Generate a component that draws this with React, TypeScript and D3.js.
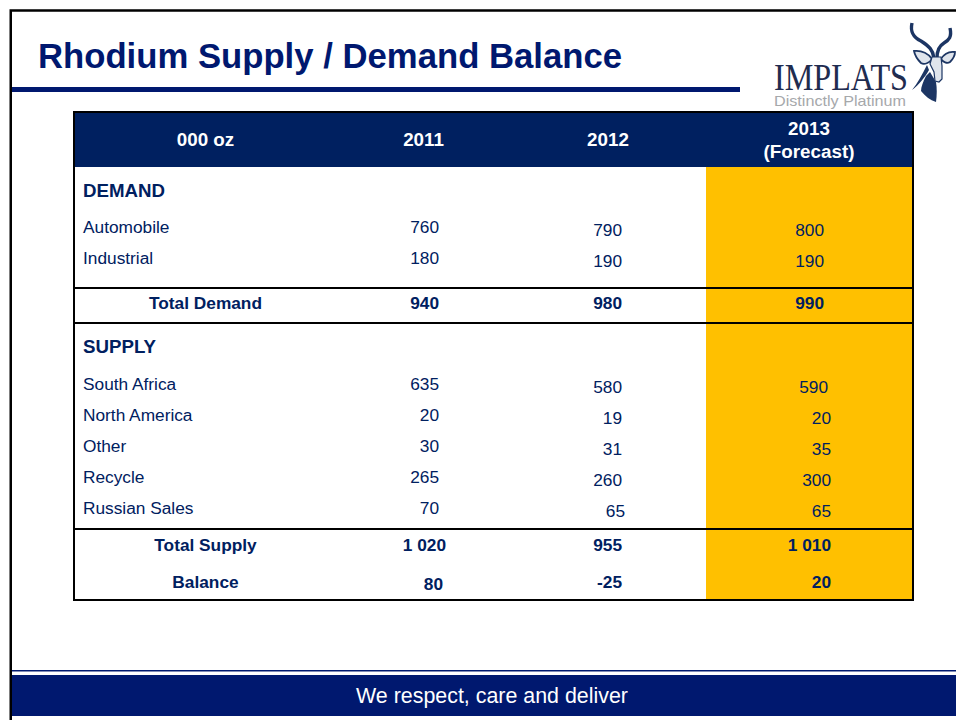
import React from 'react';
import * as d3 from 'd3';

const title = 'Rhodium Supply / Demand Balance';
const footer = 'We respect, care and deliver';
const headers = ['000 oz', '2011', '2012'];

const demandRows = ['Automobile', 'Industrial'];
const supplyRows = ['South Africa', 'North America', 'Other', 'Recycle', 'Russian Sales'];
const rowKeys = ['DEMAND', ...demandRows, 'Total Demand', 'SUPPLY', ...supplyRows, 'Total Supply', 'Balance'];
const valueRows = [...demandRows, 'Total Demand', ...supplyRows, 'Total Supply', 'Balance'];

const values2011 = ['760', '180', '940', '635', '20', '30', '265', '70', '1 020', '80'];
const values2012 = ['790', '190', '980', '580', '19', '31', '260', '65', '955', '-25'];
const values2013 = ['800', '190', '990', '590', '20', '35', '300', '65', '1 010', '20'];

const NAVY = '#002060';
const BLUE = '#00186f';
const ORANGE = '#ffc000';
const KUDU = '#1c3563';
const FONT = '"Liberation Sans", Arial, sans-serif';

// centre line of every row in the table
const rowY = d3.scaleOrdinal<string, number>()
  .domain(rowKeys)
  .range([190, 227, 258, 303, 346, 384, 415, 446, 477, 508, 545, 582]);

// the pasted columns do not line up, each cell has its own right edge
const right2011 = d3.scaleOrdinal<string, number>().domain(valueRows)
  .range([439, 439, 439, 439, 439, 439, 439, 439, 446, 443]);
const right2012 = d3.scaleOrdinal<string, number>().domain(valueRows)
  .range([622, 622, 622, 622, 622, 622, 622, 625, 622, 622]);
const right2013 = d3.scaleOrdinal<string, number>().domain(valueRows)
  .range([824, 824, 824, 828, 831, 831, 831, 831, 831, 831]);

const isTotal = (r: string) => r === 'Total Demand' || r === 'Total Supply' || r === 'Balance';

function Logo() {
  return (
    <g>
      <text x={774} y={90} fontFamily='"Liberation Serif", serif' fontSize={37} fill="#1f2c50" textLength={134} lengthAdjust="spacingAndGlyphs">IMPLATS</text>
      <text x={774} y={106} fontFamily={FONT} fontSize={14.5} fill="#a6a8ab" textLength={132} lengthAdjust="spacingAndGlyphs">Distinctly Platinum</text>
      {/* horns */}
      <path d="M912,23 C910,32 913,37 921,41 C929,46 933,50 934,58" fill="none" stroke={KUDU} strokeWidth={3.4} />
      <path d="M950,28 C952,37 949,40 944,43 C939,46 937,51 937,58" fill="none" stroke={KUDU} strokeWidth={3.4} />
      {/* ears */}
      <path d="M914,51 C922,50 929,54 932,59 C930,63 924,65 921,63 C918,60 915,56 914,51 Z" fill="#dfe4ec" stroke={KUDU} strokeWidth={1.8} />
      <path d="M955,52 C948,51 944,54 941,59 C943,62 947,64 950,62 C953,59 955,56 955,52 Z" fill="#dfe4ec" stroke={KUDU} strokeWidth={1.8} />
      {/* neck and the thin stripe beside it */}
      <path d="M927,65 C922,75 917,84 912,90 C919,85 925,77 929,70 Z" fill={KUDU} />
      <path d="M926,76 C923,82 921,87 921,91 C925,96 930,100 936,102 C937,95 937,88 936,82 L930,72 Z" fill={KUDU} />
      {/* face */}
      <path d="M932,57 L941,57 L942,66 L942,79 L939,82 L935,81 L934,72 L930,64 Z" fill="#dfe4ec" stroke={KUDU} strokeWidth={1.2} />
    </g>
  );
}

export default function App() {
  return (
    <svg width={956} height={720} viewBox="0 0 956 720" style={{ position: 'absolute', left: 0, top: 0, background: '#fff' }} fontFamily={FONT}>
      {/* slide frame */}
      <rect x={10.75} y={10.5} width={960} height={730} fill="none" stroke="#000" strokeWidth={2.5} />
      <text x={38} y={68} fontSize={34.7} fontWeight="bold" fill={BLUE}>{title}</text>
      <rect x={12} y={87} width={728} height={5} fill={BLUE} />
      <Logo />

      {/* table */}
      <rect x={74} y={112} width={840} height={55} fill={NAVY} />
      <rect x={706} y={167} width={208} height={433} fill={ORANGE} />
      <g fill="#fff" fontSize={18.8} fontWeight="bold" textAnchor="middle" dominantBaseline="central">
        <text x={205.5} y={139}>{headers[0]}</text>
        <text x={423.5} y={139}>{headers[1]}</text>
        <text x={608} y={139}>{headers[2]}</text>
        <text x={809} y={128}>2013</text>
        <text x={809} y={151}>(Forecast)</text>
      </g>
      <g fill={NAVY} fontSize={17.3} dominantBaseline="central">
        {rowKeys.map(r => {
          if (r === 'DEMAND' || r === 'SUPPLY') {
            return <text key={r} x={83} y={rowY(r)} fontSize={18.7} fontWeight="bold">{r}</text>;
          }
          if (isTotal(r)) {
            return <text key={r} x={205.5} y={rowY(r)} textAnchor="middle" fontWeight="bold">{r}</text>;
          }
          return <text key={r} x={83} y={rowY(r)}>{r}</text>;
        })}
        {valueRows.map((r, i) => (
          <text key={r} x={right2011(r)} y={rowY(r) + (r === 'Balance' ? 2 : 0)} textAnchor="end" fontWeight={isTotal(r) ? 'bold' : 'normal'}>{values2011[i]}</text>
        ))}
        {valueRows.map((r, i) => (
          <text key={r} x={right2012(r)} y={rowY(r) + (isTotal(r) ? 0 : 3)} textAnchor="end" fontWeight={isTotal(r) ? 'bold' : 'normal'}>{values2012[i]}</text>
        ))}
        {valueRows.map((r, i) => (
          <text key={r} x={right2013(r)} y={rowY(r) + (isTotal(r) ? 0 : 3)} textAnchor="end" fontWeight={isTotal(r) ? 'bold' : 'normal'}>{values2013[i]}</text>
        ))}
      </g>
      <g stroke="#000" strokeWidth={2}>
        <line x1={74} x2={914} y1={288} y2={288} />
        <line x1={74} x2={914} y1={323} y2={323} />
        <line x1={74} x2={914} y1={529} y2={529} />
      </g>
      <rect x={74} y={112} width={839} height={488} fill="none" stroke="#000" strokeWidth={2} />

      {/* footer */}
      <rect x={12} y={670} width={944} height={1.5} fill={BLUE} />
      <rect x={12} y={675} width={944} height={41} fill={BLUE} />
      <text x={492} y={696} fontSize={21.4} fill="#fff" textAnchor="middle" dominantBaseline="central">{footer}</text>
    </svg>
  );
}
